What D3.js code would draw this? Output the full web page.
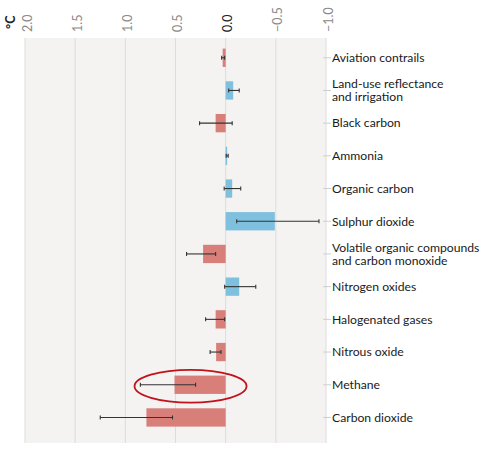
<!DOCTYPE html>
<html>
<head>
<meta charset="utf-8">
<script src="https://cdn.jsdelivr.net/npm/d3@7"></script>
<style>
  body { margin: 0; background: #fff; font-family: Lato, "Open Sans", sans-serif; }
</style>
</head>
<body>
<div id="chart"></div>
<script>
// 各排放成分對 2010-2019 升溫的貢獻 (°C)
const categories = [
  "Aviation contrails",
  "Land-use reflectance|and irrigation",
  "Black carbon",
  "Ammonia",
  "Organic carbon",
  "Sulphur dioxide",
  "Volatile organic compounds|and carbon monoxide",
  "Nitrogen oxides",
  "Halogenated gases",
  "Nitrous oxide",
  "Methane",
  "Carbon dioxide"
];
const values   = [0.03, -0.075, 0.10, -0.015, -0.065, -0.49, 0.225, -0.135, 0.10, 0.095, 0.51, 0.79];
const errLow   = [0.01, -0.135, -0.065, -0.025, -0.15, -0.93, 0.10, -0.30, 0.01, 0.047, 0.30, 0.53];
const errHigh  = [0.04, -0.03, 0.26, -0.005, 0.015, -0.11, 0.39, 0.01, 0.20, 0.155, 0.85, 1.25];
const tickValues = [2.0, 1.5, 1.0, 0.5, 0.0, -0.5, -1.0];
const highlight = "Methane";

const width = 490, height = 450;
const plot = { left: 25, right: 326, top: 38, bottom: 443 };

const rows = categories.map((c, i) => ({
  name: c, value: values[i], lo: errLow[i], hi: errHigh[i]
}));

const x = d3.scaleLinear().domain([2, -1]).range([plot.left, plot.right]);
const y = d3.scaleBand()
  .domain(categories)
  .range([41.4, 433.8])
  .paddingInner(0.44)
  .paddingOuter(0.22);

const svg = d3.select("#chart").append("svg")
  .attr("width", width)
  .attr("height", height);

// 背景
svg.append("rect")
  .attr("x", plot.left).attr("y", plot.top)
  .attr("width", plot.right - plot.left)
  .attr("height", plot.bottom - plot.top)
  .attr("fill", "#f4f3f2");

// 格線
svg.append("g")
  .selectAll("line")
  .data(tickValues)
  .join("line")
  .attr("x1", d => x(d)).attr("x2", d => x(d))
  .attr("y1", plot.top).attr("y2", plot.bottom)
  .attr("stroke", "#dddcdb")
  .attr("stroke-width", 1);

// 上方刻度 (旋轉文字)
svg.append("g")
  .selectAll("text")
  .data(tickValues)
  .join("text")
  .attr("transform", d => `translate(${x(d) + 6.5},32) rotate(-90)`)
  .attr("text-anchor", "start")
  .attr("font-size", "12.5px")
  .attr("fill", d => d === 0 ? "#222" : "#8a8a8a")
  .text(d => d3.format(".1f")(d));

svg.append("text")
  .attr("transform", "translate(15,29) rotate(-90)")
  .attr("font-size", "12.5px")
  .attr("font-weight", "bold")
  .attr("fill", "#222")
  .text("°C");

// 長條
svg.append("g")
  .selectAll("rect")
  .data(rows)
  .join("rect")
  .attr("x", d => Math.min(x(d.value), x(0)))
  .attr("y", d => y(d.name))
  .attr("width", d => Math.abs(x(d.value) - x(0)))
  .attr("height", y.bandwidth())
  .attr("fill", d => d.value >= 0 ? "#d77f78" : "#7ec0de");

// 誤差線
const err = svg.append("g")
  .attr("stroke", "#333")
  .attr("stroke-width", 1.1);
err.selectAll("line.bar")
  .data(rows)
  .join("line")
  .attr("class", "bar")
  .attr("x1", d => x(d.lo)).attr("x2", d => x(d.hi))
  .attr("y1", d => y(d.name) + y.bandwidth() / 2)
  .attr("y2", d => y(d.name) + y.bandwidth() / 2);
err.selectAll("line.capl")
  .data(rows)
  .join("line")
  .attr("class", "capl")
  .attr("x1", d => x(d.lo)).attr("x2", d => x(d.lo))
  .attr("y1", d => y(d.name) + y.bandwidth() / 2 - 2)
  .attr("y2", d => y(d.name) + y.bandwidth() / 2 + 2);
err.selectAll("line.caph")
  .data(rows)
  .join("line")
  .attr("class", "caph")
  .attr("x1", d => x(d.hi)).attr("x2", d => x(d.hi))
  .attr("y1", d => y(d.name) + y.bandwidth() / 2 - 2)
  .attr("y2", d => y(d.name) + y.bandwidth() / 2 + 2);

// 右側類別標籤
const yAxis = svg.append("g")
  .attr("transform", `translate(${plot.right},0)`)
  .call(d3.axisRight(y).tickSize(5).tickPadding(6).tickFormat(""))
  .call(g => g.select(".domain").remove())
  .call(g => g.selectAll(".tick line").attr("stroke", "#cfcfcf").attr("x1", -3));

yAxis.selectAll(".tick text")
  .attr("fill", "#1a1a1a")
  .attr("font-size", "12.2px")
  .attr("font-family", "Lato, sans-serif")
  .attr("x", 6)
  .attr("dy", null)
  .each(function (d) {
    const lines = d.split("|");
    const t = d3.select(this);
    lines.forEach((s, i) => {
      t.append("tspan")
        .attr("x", 6)
        .attr("y", (i - (lines.length - 1) / 2) * 12.6)
        .attr("dy", "0.35em")
        .text(s);
    });
  });

// 甲烷標示橢圓
svg.append("ellipse")
  .attr("cx", x(0.35))
  .attr("cy", y(highlight) + y.bandwidth() / 2 + 1.5)
  .attr("rx", 56)
  .attr("ry", 16.3)
  .attr("fill", "none")
  .attr("stroke", "#c2121b")
  .attr("stroke-width", 1.8);
</script>
</body>
</html>
